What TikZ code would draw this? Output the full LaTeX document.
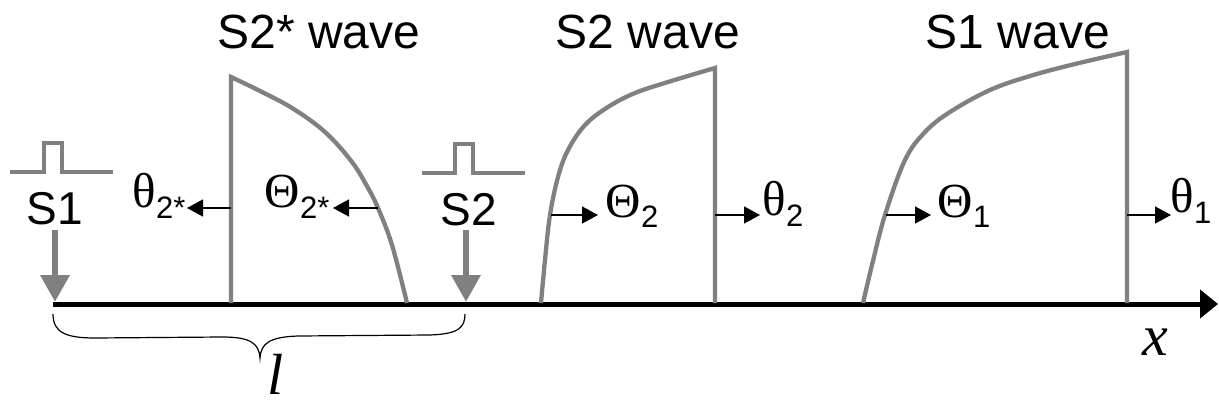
\documentclass[tikz,border=0pt]{standalone}
\usepackage{fontspec}
\setmainfont{Liberation Sans}
\newfontfamily\gkfont{Liberation Serif}
\newfontfamily\sansfont{Liberation Sans}
\usetikzlibrary{arrows.meta}
\definecolor{wavegray}{RGB}{128,128,128}
\newcommand{\qsub}[2]{\kern0.5pt\raisebox{#1}{\sansfont\fontsize{31}{34}\selectfont #2}}
\tikzset{
  wave/.style={draw=wavegray, line width=4.3pt, line join=miter},
  pulse/.style={draw=wavegray, line width=4pt},
  srcarrow/.style={draw=wavegray, line width=6.5pt, -{Triangle[length=27pt,width=28pt]}},
  flux/.style={draw=black, line width=1.5pt, -{Triangle[length=16pt,width=17pt]}},
  axisline/.style={draw=black, line width=5pt, -{Triangle[length=18pt,width=28pt]}},
  bracepath/.style={draw=black, line width=1.2pt},
  title/.style={font=\sansfont\fontsize{48}{52}\selectfont, anchor=base, inner sep=0pt},
  src/.style={font=\sansfont\fontsize{46}{50}\selectfont, anchor=base, inner sep=0pt},
  qty/.style={font=\gkfont\fontsize{49}{54}\selectfont, anchor=base west, inner sep=0pt},
  ital/.style={font=\gkfont\itshape\fontsize{58}{62}\selectfont, anchor=base, inner sep=0pt, text depth=0pt},
}
\begin{document}
\begin{tikzpicture}[x=1pt,y=-1pt]
\useasboundingbox (0,0) rectangle (1219,407);

% titles
\node[title] (t2s) at (319,48) {S2* wave};
\node[title] (t2) at (648,48) {S2 wave};
\node[title] (t1) at (1018,48) {S1 wave};

% axis
\coordinate (ax0) at (53,304);
\coordinate (ax1) at (1218,304);
\draw[axisline] (ax0) -- (ax1);

% S2* wave
\draw[wave] (231,303) -- plot[smooth, tension=0.6] coordinates {(231,77) (258,90) (292,108) (325,132) (352,162) (368,188) (378,208) (392,245) (407,303)};
% S2 wave
\draw[wave] plot[smooth, tension=0.6] coordinates {(541,303) (545,260) (550,215) (558,177) (568,150) (585,125) (608,107) (635,93) (668,82) (715,68)} -- (715,303);
% S1 wave
\draw[wave] plot[smooth, tension=0.6] coordinates {(863,303) (872,265) (885,215) (905,160) (925,132) (950,112) (990,90) (1030,76) (1075,64) (1127,52)} -- (1127,303);

% pulses
\draw[pulse] (10,172) -- (44,172) -- (44,143) -- (62,143) -- (62,172) -- (113,172);
\draw[pulse] (422,173) -- (455,173) -- (455,144) -- (473,144) -- (473,173) -- (525,173);

% source labels and arrows
\node[src] (s1) at (55,224) {S1};
\node[src] (s2) at (469,225) {S2};
\coordinate (s1a) at (55,230);
\coordinate (s1b) at (55,302);
\coordinate (s2a) at (466,230);
\coordinate (s2b) at (466,302);
\draw[srcarrow] (s1a) -- (s1b);
\draw[srcarrow] (s2a) -- (s2b);

% flux arrows
\coordinate (f1a) at (231,208); \coordinate (f1b) at (187,208);
\coordinate (f2a) at (378,208); \coordinate (f2b) at (333,208);
\coordinate (f3a) at (551,215); \coordinate (f3b) at (598,215);
\coordinate (f4a) at (715,215); \coordinate (f4b) at (760,215);
\coordinate (f5a) at (886,215); \coordinate (f5b) at (931,215);
\coordinate (f6a) at (1127,215); \coordinate (f6b) at (1171,215);
\draw[flux] (f1a) -- (f1b);
\draw[flux] (f2a) -- (f2b);
\draw[flux] (f3a) -- (f3b);
\draw[flux] (f4a) -- (f4b);
\draw[flux] (f5a) -- (f5b);
\draw[flux] (f6a) -- (f6b);

% quantity labels
\node[qty] (q1) at (132,207) {θ\qsub{-11pt}{2*}};
\node[qty] (q2) at (264,207) {Θ\qsub{-11pt}{2*}};
\node[qty] (q3) at (605,217) {Θ\qsub{-10pt}{2}};
\node[qty] (q4) at (762,215) {θ\qsub{-11pt}{2}};
\node[qty] (q5) at (937,217) {Θ\qsub{-10pt}{1}};
\node[qty] (q6) at (1170,212) {θ\qsub{-11pt}{1}};

% brace
\draw[bracepath] (53,314) .. controls (53,332) and (65,338) .. (95,338) -- (222,337) .. controls (250,337) and (259,343) .. (260,358) .. controls (261,343) and (270,337) .. (298,336) -- (430,335) .. controls (458,334) and (465,328) .. (465,314);

% axis labels
\node[ital] (lx) at (1155,355) {x};
\node[ital] (ll) at (276,394) {l};
\end{tikzpicture}
\end{document}
